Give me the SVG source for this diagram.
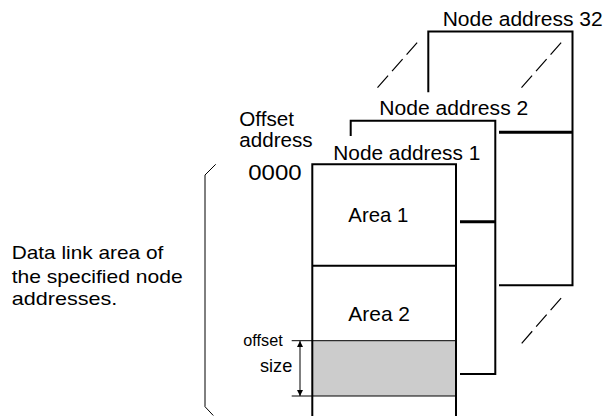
<svg xmlns="http://www.w3.org/2000/svg" width="607" height="416" viewBox="0 0 607 416">
<style>
text{font-family:"Liberation Sans",Arial,sans-serif;fill:#000}
.frame{fill:none;stroke:#000;stroke-width:2}
.conn{fill:none;stroke:#000;stroke-width:3}
.dash{fill:none;stroke:#000;stroke-width:1.2;stroke-dasharray:16 6}
.thin{fill:none;stroke:#000;stroke-width:1}
</style>
<defs>
<marker id="ah" viewBox="0 0 10 10" refX="10" refY="5" markerWidth="6" markerHeight="6" markerUnits="userSpaceOnUse" orient="auto-start-reverse">
<path d="M0,0 L10,5 L0,10 z" fill="#000"/>
</marker>
</defs>
<rect width="607" height="416" fill="#fff"/>

<g id="node32">
<path class="frame" d="M428.3,92.3 V31.5 H572.5 V285.3 H499"/>
<text x="442.7" y="26" font-size="20.5" textLength="160" lengthAdjust="spacingAndGlyphs">Node address 32</text>
</g>

<g id="node2">
<path class="frame" d="M350.7,136 V120.7 H495.3 V374 H460"/>
<text x="379.3" y="115" font-size="20.5" textLength="149" lengthAdjust="spacingAndGlyphs">Node address 2</text>
</g>

<g id="node1">
<rect x="312.3" y="340.7" width="143.7" height="55.3" fill="#cccccc"/>
<path class="thin" d="M312.3,340.7 H456 M312.3,396 H456" stroke="#333" stroke-width="1.5"/>
<path class="frame" d="M312.3,416 V164.3 H456 V416 M312.3,265.7 H456"/>
<text x="333.3" y="160" font-size="20.5" textLength="147" lengthAdjust="spacingAndGlyphs">Node address 1</text>
<text x="348.3" y="222" font-size="21" textLength="60" lengthAdjust="spacingAndGlyphs">Area 1</text>
<text x="348.3" y="320.7" font-size="21" textLength="61.7" lengthAdjust="spacingAndGlyphs">Area 2</text>
</g>

<g id="offset-labels">
<text x="239.3" y="126" font-size="20.5" textLength="54.7" lengthAdjust="spacingAndGlyphs">Offset</text>
<text x="239.3" y="146.7" font-size="20.5" textLength="73.3" lengthAdjust="spacingAndGlyphs">address</text>
<text x="248.3" y="180" font-size="21.5" textLength="53.3" lengthAdjust="spacingAndGlyphs">0000</text>
</g>

<g id="offset-size">
<path class="thin" d="M291.7,340.7 H312.3 M291.7,396 H312.3"/>
<line class="thin" x1="300" y1="341" x2="300" y2="396" marker-start="url(#ah)" marker-end="url(#ah)"/>
<text x="243.3" y="345.7" font-size="17" textLength="39.4" lengthAdjust="spacingAndGlyphs">offset</text>
<text x="260" y="371.7" font-size="18.5" textLength="32.3" lengthAdjust="spacingAndGlyphs">size</text>
</g>

<g id="bracket">
<path class="thin" d="M215.7,164.3 L205,175 V406.7 L213.3,415.5"/>
<text x="11.7" y="259.3" font-size="19" textLength="151.6" lengthAdjust="spacingAndGlyphs">Data link area of</text>
<text x="11.7" y="283.3" font-size="19" textLength="171" lengthAdjust="spacingAndGlyphs">the specified node</text>
<text x="11.7" y="305" font-size="19" textLength="105.6" lengthAdjust="spacingAndGlyphs">addresses.</text>
</g>

<g id="connectors">
<line class="conn" x1="460" y1="221.7" x2="495.3" y2="221.7"/>
<line class="conn" x1="499" y1="132.3" x2="572.5" y2="132.3"/>
<line class="dash" x1="377.5" y1="87.7" x2="418" y2="41.7"/>
<line class="dash" x1="521.5" y1="87.7" x2="562" y2="41.7"/>
<line class="dash" x1="521.7" y1="343.3" x2="562.3" y2="296.7"/>
</g>
</svg>
